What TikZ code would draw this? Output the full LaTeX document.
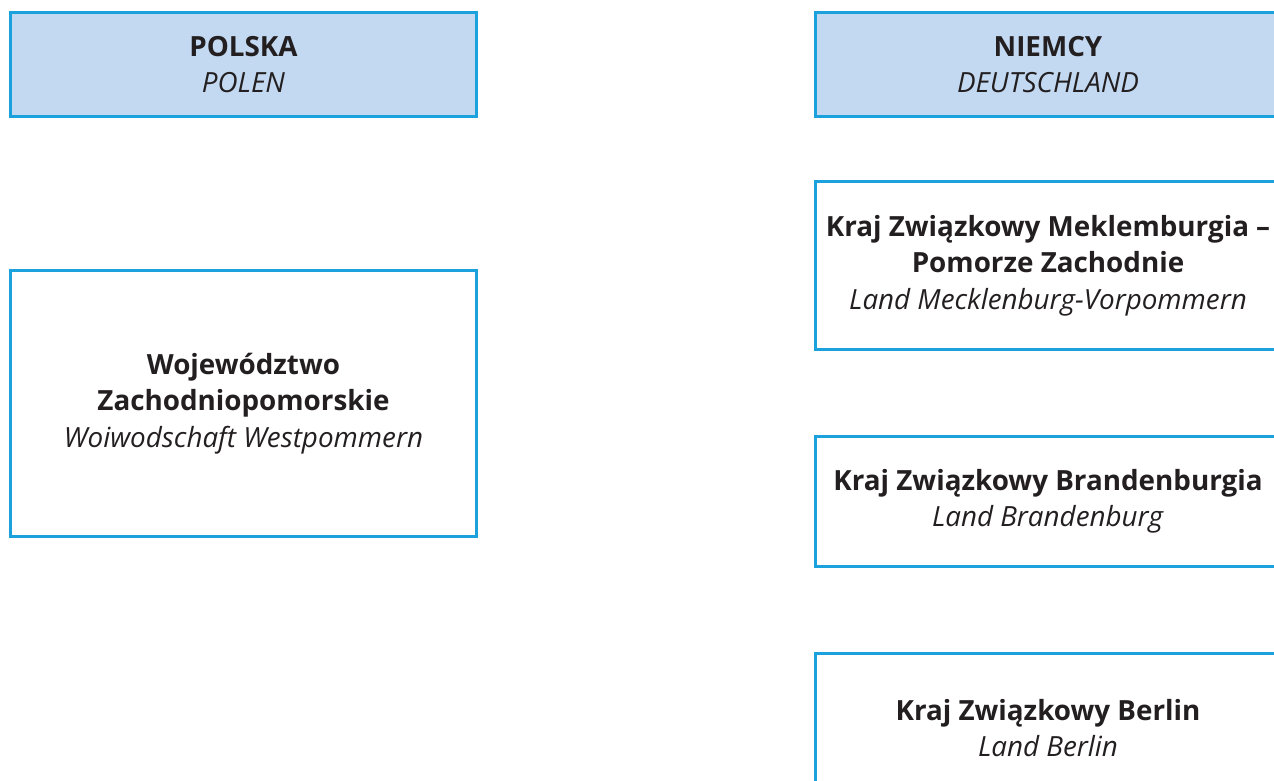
\documentclass[tikz,border=0pt]{standalone}
\usepackage{fontspec}
\setmainfont{Open Sans}
\usepackage{tikz}

\definecolor{rimblue}{HTML}{1BA1DB}
\definecolor{headfill}{HTML}{C3D9F1}
\definecolor{inkdark}{HTML}{231F20}

\begin{document}
\begin{tikzpicture}[x=1pt, y=-1pt, line width=3pt]
  \tikzstyle{unit}=[draw=rimblue, align=center, inner sep=0pt,
    minimum width=466pt, text=inkdark,
    font=\fontsize{27.8}{36.5}\selectfont]
  \tikzstyle{head}=[unit, fill=headfill, minimum height=104pt]

  \useasboundingbox (0,0) rectangle (1274,780);
  \clip (0,0) rectangle (1274,780);

  % Left: Poland
  \node[head] (pol) at (243.5, 64.5) {\textbf{POLSKA}\\\textit{POLEN}};
  \node[unit, minimum height=266pt] (woj) at (243.5, 403.5)
    {\textbf{Województwo}\\\textbf{Zachodniopomorskie}\\\textit{Woiwodschaft Westpommern}};

  % Right: Germany
  \node[head] (de) at (1048, 64.5) {\textbf{NIEMCY}\\\textit{DEUTSCHLAND}};
  \node[unit, minimum height=168pt] (mek) at (1048, 265.5)
    {\textbf{Kraj Związkowy Meklemburgia –}\\\textbf{Pomorze Zachodnie}\\\textit{Land Mecklenburg-Vorpommern}};
  \node[unit, minimum height=130pt] (bra) at (1048, 501.5)
    {\textbf{Kraj Związkowy Brandenburgia}\\\textit{Land Brandenburg}};
  \node[unit, minimum height=149pt] (ber) at (1048, 728)
    {\textbf{Kraj Związkowy Berlin}\\\textit{Land Berlin}};
\end{tikzpicture}
\end{document}
